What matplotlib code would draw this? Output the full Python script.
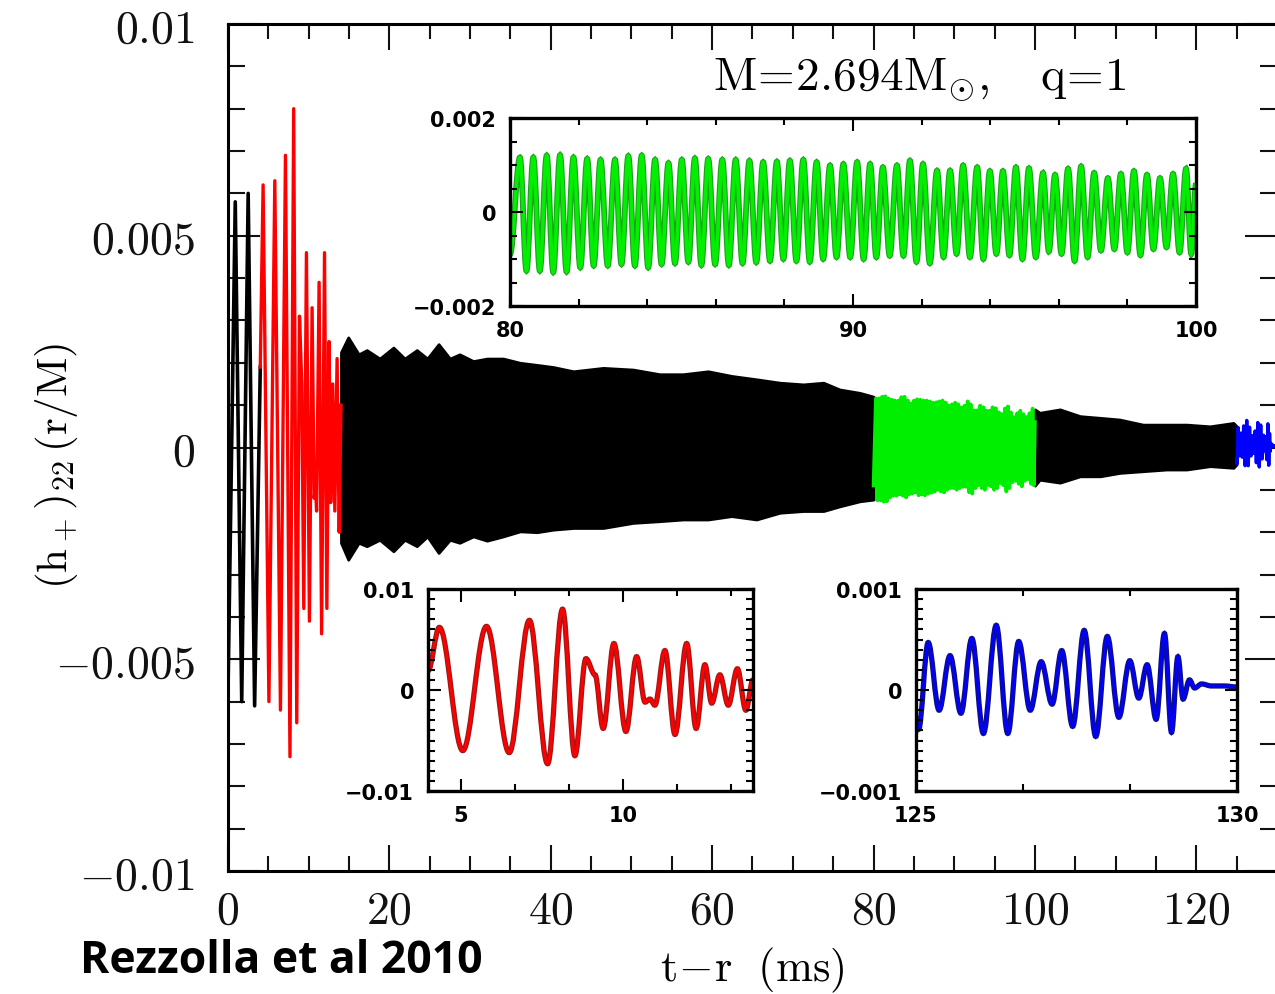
import numpy as np
import matplotlib
matplotlib.use('Agg')
import matplotlib.pyplot as plt
from matplotlib.path import Path
from matplotlib.patches import PathPatch
from matplotlib.ticker import FixedLocator, MultipleLocator, FixedFormatter

plt.rcParams['mathtext.fontset'] = 'cm'

# ---- data (t in ms, h in r/M) ----
# first cycles (black), before the red segment
early_t = [0.0, 0.9, 1.7, 2.5, 3.3, 4.0]
early_h = [-0.0058, 0.0058, -0.0060, 0.0060, -0.0061, 0.0019]

# red segment 4-14 ms (extrema)
red_t = [4.00, 4.35, 5.07, 5.80, 6.50, 7.12, 7.68, 8.14, 8.52, 8.86, 9.14, 9.39, 9.72,
         10.09, 10.42, 10.68, 10.83, 10.98, 11.29, 11.60, 11.96, 12.25, 12.52, 12.73,
         12.98, 13.24, 13.52, 13.78, 14.00]
red_h = [0.0019, 0.0062, -0.0060, 0.0063, -0.0062, 0.0069, -0.0073, 0.0080, -0.0065,
         0.0031, 0.0015, -0.0038, 0.0046, -0.0041, 0.0033, -0.0012, -0.0009, -0.0015,
         0.0039, -0.0044, 0.0046, -0.0038, 0.0025, -0.0013, 0.0015, -0.0015, 0.0021,
         -0.0020, 0.0010]

# black envelope 14-80 ms
band1_t = [14.0, 14.9, 16.2, 17.2, 18.8, 20.5, 21.9, 23.4, 24.7, 26.1, 27.5, 28.7, 30.4,
           32.1, 34.1, 36.2, 38.3, 40.3, 42.8, 46.5, 50.2, 53.5, 56.4, 59.5, 62.4, 65.5,
           68.4, 71.3, 73.8, 75.8, 78.3, 80.0]
band1_hi = [0.00225, 0.0026, 0.0022, 0.0023, 0.0021, 0.00236, 0.0021, 0.0023, 0.0021,
            0.00244, 0.0021, 0.0022, 0.00204, 0.0021, 0.0021, 0.0020, 0.00195, 0.0019,
            0.0018, 0.00188, 0.00184, 0.00173, 0.00173, 0.0018, 0.00169, 0.00161,
            0.00153, 0.00149, 0.00153, 0.00137, 0.00129, 0.0012]
band1_lo = [-0.00225, -0.00265, -0.00225, -0.00233, -0.00218, -0.00245, -0.00218,
            -0.00233, -0.0021, -0.00249, -0.00218, -0.00225, -0.0021, -0.0022, -0.0021,
            -0.00198, -0.002, -0.00194, -0.0019, -0.0019, -0.00178, -0.00174, -0.0017,
            -0.0017, -0.00162, -0.0017, -0.00154, -0.0015, -0.0015, -0.00139, -0.00127,
            -0.00123]

# green segment 80-100 ms: peaks and troughs
green_pk_t = [80.29, 80.68, 81.07, 81.46, 81.85, 82.25, 82.64, 83.06, 83.45, 83.84, 84.23,
              84.62, 85.01, 85.39, 85.78, 86.19, 86.58, 86.98, 87.38, 87.78, 88.16, 88.55,
              88.94, 89.33, 89.72, 90.12, 90.50, 90.87, 91.28, 91.66, 92.04, 92.45, 92.83,
              93.21, 93.62, 93.99, 94.37, 94.75, 95.13, 95.54, 95.89, 96.27, 96.65, 97.03,
              97.43, 97.81, 98.19, 98.57, 98.95, 99.33, 99.71]
green_pk_h = [0.00116, 0.00116, 0.00120, 0.00121, 0.00116, 0.00113, 0.00111, 0.00111,
              0.00119, 0.00120, 0.00111, 0.00104, 0.00111, 0.00114, 0.00113, 0.00111,
              0.00111, 0.00109, 0.00106, 0.00107, 0.00109, 0.00111, 0.00106, 0.00099,
              0.00102, 0.00106, 0.00102, 0.00095, 0.00099, 0.00109, 0.00102, 0.00088,
              0.00088, 0.00099, 0.00095, 0.00087, 0.00087, 0.00095, 0.00093, 0.00083,
              0.00079, 0.00092, 0.00097, 0.00083, 0.00072, 0.00081, 0.00087, 0.00079,
              0.00072, 0.00081, 0.00092]
green_tr_t = [80.48, 80.87, 81.26, 81.65, 82.05, 82.44, 82.85, 83.25, 83.64, 84.03, 84.42,
              84.81, 85.20, 85.58, 85.98, 86.38, 86.78, 87.18, 87.58, 87.97, 88.35, 88.74,
              89.13, 89.52, 89.92, 90.31, 90.68, 91.07, 91.47, 91.85, 92.24, 92.64, 93.02,
              93.41, 93.80, 94.18, 94.56, 94.94, 95.33, 95.71, 96.08, 96.46, 96.84, 97.23,
              97.62, 98.00, 98.38, 98.76, 99.14, 99.52, 99.86]
green_tr_h = [-0.00125, -0.00125, -0.00128, -0.00127, -0.00118, -0.00114, -0.00114,
              -0.00111, -0.00114, -0.00118, -0.00111, -0.00109, -0.00106, -0.00113,
              -0.00111, -0.00113, -0.00109, -0.00107, -0.00104, -0.00100, -0.00104,
              -0.00106, -0.00100, -0.00096, -0.00096, -0.00100, -0.00096, -0.00093,
              -0.00093, -0.00106, -0.00109, -0.00096, -0.00089, -0.00096, -0.00100,
              -0.00089, -0.00092, -0.00100, -0.00096, -0.00084, -0.00089, -0.00104,
              -0.00096, -0.00082, -0.00079, -0.00086, -0.00092, -0.00079, -0.00075,
              -0.00086, -0.00089]
green_start = (80.0, -0.0009)
green_end = (100.0, 0.0006)

# black envelope 100-125 ms
band2_t = [100.0, 100.6, 103.1, 105.6, 108.1, 110.5, 113.4, 116.3, 118.8, 121.7, 124.6, 125.0]
band2_hi = [0.0009, 0.00082, 0.0009, 0.00074, 0.0007, 0.00066, 0.00054, 0.00054,
            0.00054, 0.0005, 0.00058, 0.0005]
band2_lo = [-0.0009, -0.00076, -0.00083, -0.00068, -0.00068, -0.0006, -0.00056,
            -0.00052, -0.00052, -0.00044, -0.00048, -0.0004]

# blue segment 125-130 ms (extrema)
blue_t = [125.00, 125.04, 125.19, 125.36, 125.53, 125.70, 125.87, 126.05, 126.25, 126.43,
          126.60, 126.78, 126.95, 127.12, 127.27, 127.44, 127.62, 127.80, 127.98, 128.16,
          128.33, 128.47, 128.60, 128.74, 128.87, 128.98, 129.08, 129.16, 129.26, 129.34,
          129.45, 129.60, 129.80, 130.00]
blue_h = [-0.00027, -0.00039, 0.00047, -0.00020, 0.00034, -0.00023, 0.00051, -0.00043,
          0.00064, -0.00043, 0.00048, -0.00020, 0.00028, -0.00014, 0.00039, -0.00036,
          0.00059, -0.00046, 0.00053, -0.00027, 0.00029, -0.00008, 0.00025, -0.00029,
          0.00056, -0.00042, 0.00033, -0.00009, 0.00010, 0.00002, 0.00006, 0.00004,
          0.00004, 0.00003]

# merge green peaks and troughs in time order
green_t = [green_start[0]] + list(np.column_stack([green_pk_t, green_tr_t]).ravel()) + [green_end[0]]
green_h = [green_start[1]] + list(np.column_stack([green_pk_h, green_tr_h]).ravel()) + [green_end[1]]


def curva_suave(t, h, k=0.36):
    # smooth curve through the extrema (horizontal tangent at each point)
    verts = [(t[0], h[0])]
    codes = [Path.MOVETO]
    for i in range(len(t) - 1):
        dt = t[i + 1] - t[i]
        verts += [(t[i] + k * dt, h[i]), (t[i + 1] - k * dt, h[i + 1]), (t[i + 1], h[i + 1])]
        codes += [Path.CURVE4] * 3
    return Path(verts, codes)


fig = plt.figure(figsize=(12.75, 9.95), dpi=100)
W, H = 1275.0, 995.0

# ---- main panel ----
ax = fig.add_axes([228 / W, 1 - 872 / H, 1049 / W, 847 / H])
ax.plot(early_t, early_h, color='k', lw=2.6)
ax.plot(red_t, red_h, color='#ff0000', lw=2.4)
ax.fill_between(band1_t, band1_lo, band1_hi, color='k', lw=2)
ax.plot(green_t, green_h, color='#00ee00', lw=2.6)
ax.fill_between(band2_t, band2_lo, band2_hi, color='k', lw=2)
ax.plot(blue_t, blue_h, color='#0000ff', lw=2.4)

ax.set_xlim(0, 130)
ax.set_ylim(-0.01, 0.01)
ax.xaxis.set_major_locator(FixedLocator([0, 20, 40, 60, 80, 100, 120]))
ax.xaxis.set_major_formatter(FixedFormatter([r'$%d$' % v for v in [0, 20, 40, 60, 80, 100, 120]]))
ax.xaxis.set_minor_locator(MultipleLocator(5))
ax.yaxis.set_major_locator(FixedLocator([-0.01, -0.005, 0, 0.005, 0.01]))
ax.yaxis.set_major_formatter(FixedFormatter([r'$-0.01$', r'$-0.005$', r'$0$', r'$0.005$', r'$0.01$']))
ax.yaxis.set_minor_locator(MultipleLocator(0.001))
ax.tick_params(which='both', direction='in', top=True, right=True, width=1.5, colors='#111111')
ax.tick_params(axis='x', which='major', length=19, pad=12, labelsize=33)
ax.tick_params(axis='x', which='minor', length=11)
ax.tick_params(axis='y', which='major', length=23, pad=24, labelsize=33)
ax.tick_params(axis='y', which='minor', length=12)
for s in ax.spines.values():
    s.set_linewidth(2.2)

fig.text(57 / W, 1 - 466 / H, r'$\mathrm{(h_+)_{22}\,(r/M)}$', rotation=90,
         ha='center', va='center', fontsize=31)
fig.text(752 / W, 1 - 970 / H, r'$\mathrm{t\!-\!r\ \ (ms)}$', ha='center', va='center', fontsize=32)
fig.text(713 / W, 1 - 90 / H, r'$\mathrm{M\!=\!2.694M_{\odot},\ \ \ q\!=\!1}$',
         ha='left', va='baseline', fontsize=34)
fig.text(80 / W, 1 - 973 / H, 'Rezzolla et al 2010', family='Open Sans', fontweight='bold',
         fontsize=32, ha='left', va='baseline')


# ---- insets ----
def inset(rect, xlim, ylim, xmaj, xlab, xmin, ymaj, ylab, ymin_step):
    a = fig.add_axes(rect)
    a.set_xlim(*xlim)
    a.set_ylim(*ylim)
    a.xaxis.set_major_locator(FixedLocator(xmaj))
    a.xaxis.set_major_formatter(FixedFormatter(xlab))
    a.xaxis.set_minor_locator(FixedLocator(xmin))
    a.yaxis.set_major_locator(FixedLocator(ymaj))
    a.yaxis.set_major_formatter(FixedFormatter(ylab))
    a.yaxis.set_minor_locator(MultipleLocator(ymin_step))
    a.tick_params(which='both', direction='in', top=True, right=True, width=1.5)
    a.tick_params(which='major', length=9, pad=10, labelsize=15)
    a.tick_params(which='minor', length=5)
    for lab in a.get_xticklabels() + a.get_yticklabels():
        lab.set_fontweight('bold')
        lab.set_family('DejaVu Sans')
    for s in a.spines.values():
        s.set_linewidth(2.4)
    return a


ax_g = inset([510 / W, 1 - 307 / H, 686 / W, 188 / H], (80, 100), (-0.002, 0.002),
             [80, 90, 100], ['80', '90', '100'], [82, 84, 86, 88, 92, 94, 96, 98],
             [-0.002, 0, 0.002], ['\u22120.002', '0', '0.002'], 0.0005)
ax_g.add_patch(PathPatch(curva_suave(green_t, green_h), fill=False, ec='#1fa01f', lw=4.2))
ax_g.add_patch(PathPatch(curva_suave(green_t, green_h), fill=False, ec='#00f000', lw=2.6))

ax_r = inset([428 / W, 1 - 792 / H, 325 / W, 202 / H], (4, 14), (-0.01, 0.01),
             [5, 10], ['5', '10'], [6.667, 8.333, 11.667, 13.333],
             [-0.01, 0, 0.01], ['\u22120.01', '0', '0.01'], 0.001)
ax_r.add_patch(PathPatch(curva_suave(red_t, red_h), fill=False, ec='#a01818', lw=3.8))
ax_r.add_patch(PathPatch(curva_suave(red_t, red_h), fill=False, ec='#ff0000', lw=2.0))

ax_b = inset([916 / W, 1 - 792 / H, 321 / W, 202 / H], (125, 130), (-0.001, 0.001),
             [125, 130], ['125', '130'], [126.667, 128.333],
             [-0.001, 0, 0.001], ['\u22120.001', '0', '0.001'], 0.0001)
ax_b.add_patch(PathPatch(curva_suave(blue_t, blue_h), fill=False, ec='#10107a', lw=3.8))
ax_b.add_patch(PathPatch(curva_suave(blue_t, blue_h), fill=False, ec='#0000ff', lw=2.0))

fig.savefig('out.png', dpi=100)
